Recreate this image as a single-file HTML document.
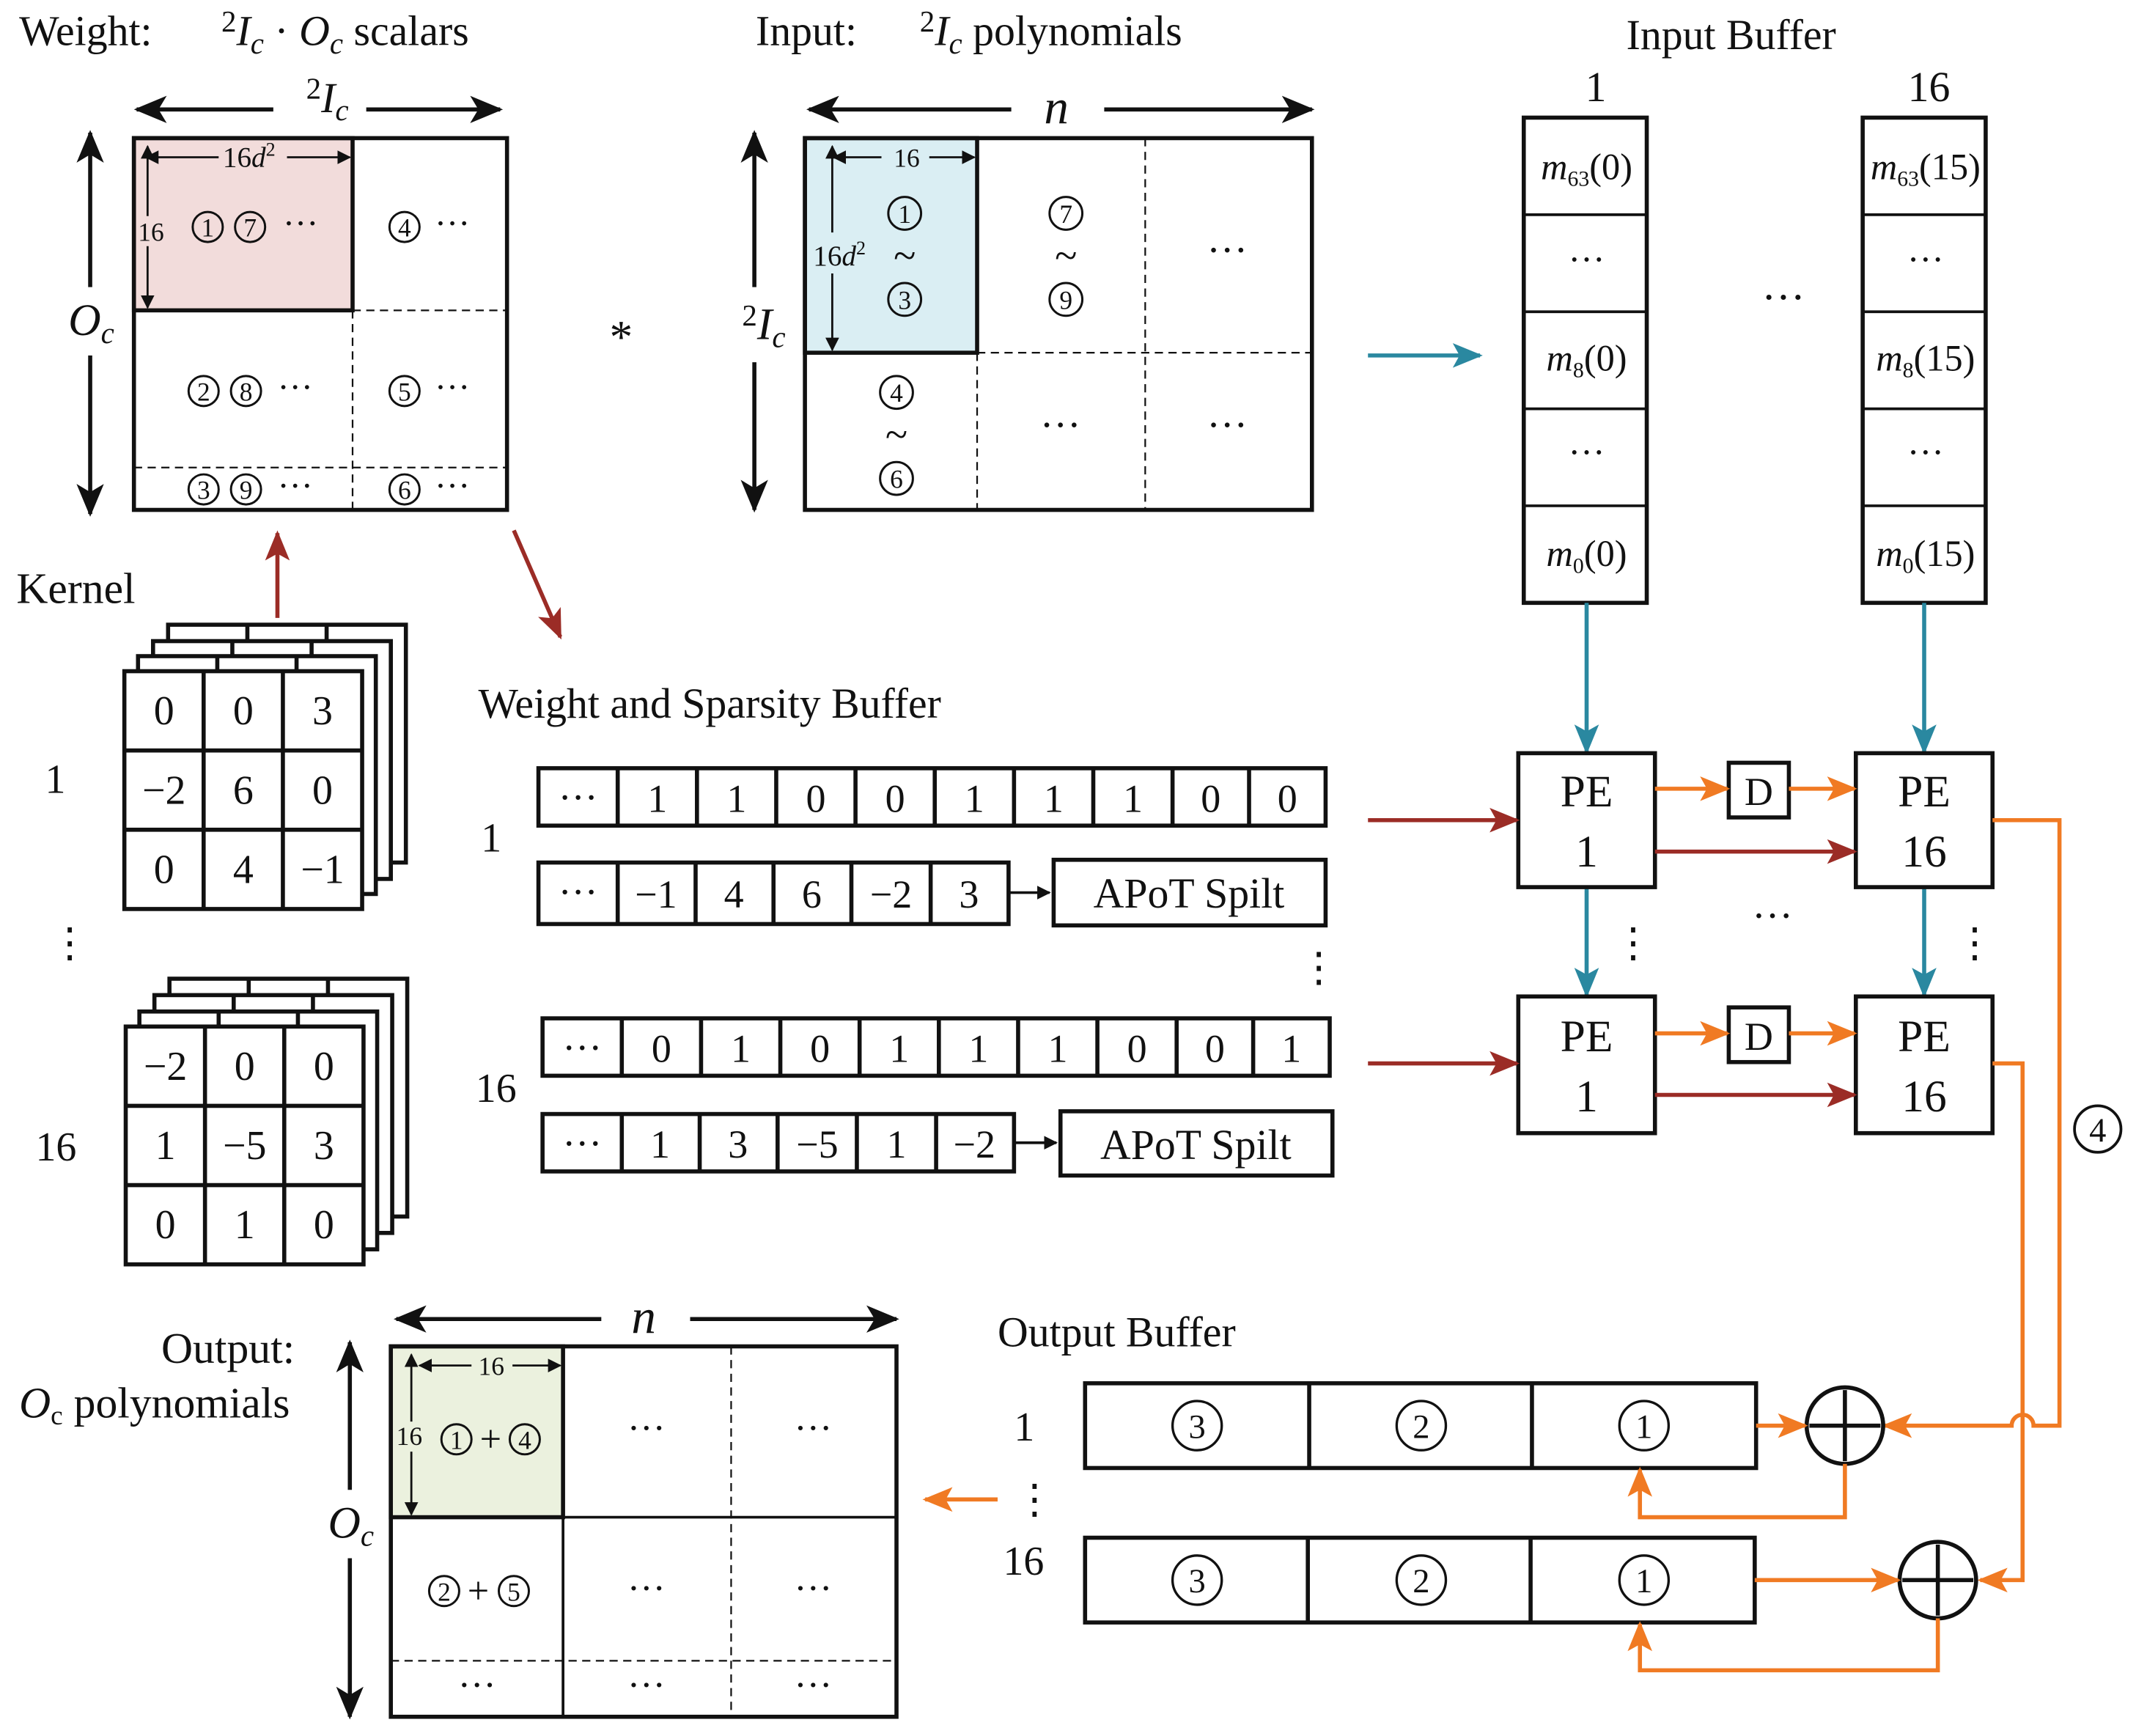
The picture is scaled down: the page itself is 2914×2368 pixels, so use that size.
<!DOCTYPE html>
<html><head><meta charset="utf-8"><style>
html,body{margin:0;padding:0;background:#fff;}
svg{display:block;}
text{font-family:"Liberation Serif",serif;fill:#111;}
</style></head><body>
<svg width="2914" height="2368" viewBox="0 0 1563 1270" xmlns="http://www.w3.org/2000/svg">
<defs>
<marker id="ak" markerWidth="10" markerHeight="10" refX="9" refY="5" orient="auto" markerUnits="userSpaceOnUse"><path d="M0,0 L10,5 L0,10 z" fill="#111"/></marker>
<marker id="abig" markerWidth="24" markerHeight="20" refX="22" refY="10" orient="auto" markerUnits="userSpaceOnUse"><path d="M0,0 L24,10 L0,20 L6,10 z" fill="#111"/></marker>
<marker id="ar" markerWidth="22" markerHeight="18" refX="20" refY="9" orient="auto" markerUnits="userSpaceOnUse"><path d="M0,0 L22,9 L0,18 L5,9 z" fill="#9b2c26"/></marker>
<marker id="at" markerWidth="22" markerHeight="18" refX="20" refY="9" orient="auto" markerUnits="userSpaceOnUse"><path d="M0,0 L22,9 L0,18 L5,9 z" fill="#2a88a0"/></marker>
<marker id="ao" markerWidth="22" markerHeight="18" refX="20" refY="9" orient="auto" markerUnits="userSpaceOnUse"><path d="M0,0 L22,9 L0,18 L5,9 z" fill="#f07a23"/></marker>
</defs>
<g font-size="31">
<text x="14" y="33">Weight:</text>
<text x="162" y="33"><tspan font-size="22" dy="-10">2</tspan><tspan dy="10" font-style="italic">I</tspan><tspan font-size="22" font-style="italic" dy="6">c</tspan><tspan dy="-6"> · </tspan><tspan font-style="italic">O</tspan><tspan font-size="22" font-style="italic" dy="6">c</tspan><tspan dy="-6"> scalars</tspan></text>
<text x="553" y="33">Input:</text>
<text x="673" y="33"><tspan font-size="22" dy="-10">2</tspan><tspan dy="10" font-style="italic">I</tspan><tspan font-size="22" font-style="italic" dy="6">c</tspan><tspan dy="-6"> polynomials</tspan></text>
<text x="1190" y="36">Input Buffer</text>
<text x="1160" y="74">1</text>
<text x="1396" y="74">16</text>
</g>
<rect x="98" y="101" width="160" height="126" fill="#f2dcdb" stroke="#111" stroke-width="3"/>
<rect x="98" y="101" width="273" height="272" fill="none" stroke="#111" stroke-width="3"/>
<g stroke="#111" stroke-width="1.2" stroke-dasharray="6,4">
<line x1="258" y1="227" x2="258" y2="373"/>
<line x1="258" y1="227" x2="371" y2="227"/>
<line x1="98" y1="342" x2="371" y2="342"/>
</g>
<line x1="200" y1="80" x2="100" y2="80" stroke="#111" stroke-width="3" marker-end="url(#abig)"/>
<line x1="268" y1="80" x2="366" y2="80" stroke="#111" stroke-width="3" marker-end="url(#abig)"/>
<text x="224" y="82" font-size="31"><tspan font-size="22" dy="-10">2</tspan><tspan dy="10" font-style="italic">I</tspan><tspan font-size="22" font-style="italic" dy="6">c</tspan></text>
<line x1="66" y1="210" x2="66" y2="97" stroke="#111" stroke-width="3" marker-end="url(#abig)"/>
<line x1="66" y1="260" x2="66" y2="376" stroke="#111" stroke-width="3" marker-end="url(#abig)"/>
<text x="50" y="245" font-size="33" font-style="italic">O<tspan font-size="22" dy="6">c</tspan></text>
<line x1="160" y1="115" x2="107" y2="115" stroke="#111" stroke-width="1.5" marker-end="url(#ak)"/>
<line x1="210" y1="115" x2="256" y2="115" stroke="#111" stroke-width="1.5" marker-end="url(#ak)"/>
<text x="163" y="122" font-size="21">16<tspan font-style="italic">d</tspan><tspan font-size="14" dy="-8">2</tspan></text>
<line x1="108" y1="158" x2="108" y2="107" stroke="#111" stroke-width="1.5" marker-end="url(#ak)"/>
<line x1="108" y1="180" x2="108" y2="225" stroke="#111" stroke-width="1.5" marker-end="url(#ak)"/>
<text x="101" y="176" font-size="19">16</text>
<g fill="none" stroke="#111" stroke-width="1.6">
<circle cx="152" cy="166" r="11"/><circle cx="183" cy="166" r="11"/><circle cx="296" cy="166" r="11"/>
<circle cx="149" cy="286" r="11"/><circle cx="180" cy="286" r="11"/><circle cx="296" cy="286" r="11"/>
<circle cx="149" cy="358" r="11"/><circle cx="180" cy="358" r="11"/><circle cx="296" cy="358" r="11"/>
</g>
<g font-size="19" text-anchor="middle">
<text x="152" y="173">1</text><text x="183" y="173">7</text><text x="296" y="173">4</text>
<text x="149" y="293">2</text><text x="180" y="293">8</text><text x="296" y="293">5</text>
<text x="149" y="365">3</text><text x="180" y="365">9</text><text x="296" y="365">6</text>
</g>
<g font-size="26">
<text x="207" y="172">···</text><text x="318" y="172">···</text>
<text x="203" y="292">···</text><text x="318" y="292">···</text>
<text x="203" y="364">···</text><text x="318" y="364">···</text>
</g>
<text x="446" y="258" font-size="34">*</text>
<rect x="589" y="101" width="126" height="157" fill="#daeef3" stroke="#111" stroke-width="3"/>
<rect x="589" y="101" width="371" height="272" fill="none" stroke="#111" stroke-width="3"/>
<g stroke="#111" stroke-width="1.2" stroke-dasharray="6,4">
<line x1="715" y1="258" x2="715" y2="373"/>
<line x1="838" y1="101" x2="838" y2="373"/>
<line x1="715" y1="258" x2="960" y2="258"/>
</g>
<line x1="740" y1="80" x2="592" y2="80" stroke="#111" stroke-width="3" marker-end="url(#abig)"/>
<line x1="808" y1="80" x2="960" y2="80" stroke="#111" stroke-width="3" marker-end="url(#abig)"/>
<text x="764" y="90" font-size="36" font-style="italic">n</text>
<line x1="552" y1="210" x2="552" y2="97" stroke="#111" stroke-width="3" marker-end="url(#abig)"/>
<line x1="552" y1="265" x2="552" y2="373" stroke="#111" stroke-width="3" marker-end="url(#abig)"/>
<text x="543" y="248" font-size="33"><tspan font-size="22" dy="-10">2</tspan><tspan dy="10" font-style="italic">I</tspan><tspan font-size="22" font-style="italic" dy="6">c</tspan></text>
<line x1="645" y1="115" x2="610" y2="115" stroke="#111" stroke-width="1.5" marker-end="url(#ak)"/>
<line x1="680" y1="115" x2="713" y2="115" stroke="#111" stroke-width="1.5" marker-end="url(#ak)"/>
<text x="654" y="122" font-size="19">16</text>
<line x1="609" y1="170" x2="609" y2="107" stroke="#111" stroke-width="1.5" marker-end="url(#ak)"/>
<line x1="609" y1="200" x2="609" y2="256" stroke="#111" stroke-width="1.5" marker-end="url(#ak)"/>
<text x="595" y="194" font-size="21">16<tspan font-style="italic">d</tspan><tspan font-size="14" dy="-8">2</tspan></text>
<g fill="none" stroke="#111" stroke-width="1.6">
<circle cx="662" cy="156" r="12"/><circle cx="662" cy="219" r="12"/>
<circle cx="780" cy="156" r="12"/><circle cx="780" cy="219" r="12"/>
<circle cx="656" cy="287" r="12"/><circle cx="656" cy="350" r="12"/>
</g>
<g font-size="19" text-anchor="middle">
<text x="662" y="163">1</text><text x="662" y="226">3</text>
<text x="780" y="163">7</text><text x="780" y="226">9</text>
<text x="656" y="294">4</text><text x="656" y="357">6</text>
</g>
<g font-size="30" text-anchor="middle">
<text x="662" y="197">~</text><text x="780" y="197">~</text><text x="656" y="328">~</text>
<text x="898" y="193">···</text><text x="776" y="321">···</text><text x="898" y="321">···</text>
</g>
<g fill="none" stroke="#111" stroke-width="3">
<rect x="1115" y="86" width="90" height="355"/>
<rect x="1363" y="86" width="90" height="355"/>
</g>
<g stroke="#111" stroke-width="2">
<line x1="1115" y1="157" x2="1205" y2="157"/><line x1="1115" y1="228" x2="1205" y2="228"/><line x1="1115" y1="299" x2="1205" y2="299"/><line x1="1115" y1="370" x2="1205" y2="370"/>
<line x1="1363" y1="157" x2="1453" y2="157"/><line x1="1363" y1="228" x2="1453" y2="228"/><line x1="1363" y1="299" x2="1453" y2="299"/><line x1="1363" y1="370" x2="1453" y2="370"/>
</g>
<g font-size="27" text-anchor="middle">
<text x="1161" y="131"><tspan font-style="italic">m</tspan><tspan font-size="16" dy="5">63</tspan><tspan dy="-5">(0)</tspan></text>
<text x="1161" y="199">···</text>
<text x="1161" y="271"><tspan font-style="italic">m</tspan><tspan font-size="16" dy="5">8</tspan><tspan dy="-5">(0)</tspan></text>
<text x="1161" y="340">···</text>
<text x="1161" y="414"><tspan font-style="italic">m</tspan><tspan font-size="16" dy="5">0</tspan><tspan dy="-5">(0)</tspan></text>
<text x="1409" y="131"><tspan font-style="italic">m</tspan><tspan font-size="16" dy="5">63</tspan><tspan dy="-5">(15)</tspan></text>
<text x="1409" y="199">···</text>
<text x="1409" y="271"><tspan font-style="italic">m</tspan><tspan font-size="16" dy="5">8</tspan><tspan dy="-5">(15)</tspan></text>
<text x="1409" y="340">···</text>
<text x="1409" y="414"><tspan font-style="italic">m</tspan><tspan font-size="16" dy="5">0</tspan><tspan dy="-5">(15)</tspan></text>
<text x="1305" y="228" font-size="32">···</text>
</g>
<line x1="1001" y1="260" x2="1083" y2="260" stroke="#2a88a0" stroke-width="3" marker-end="url(#at)"/>
<line x1="1161" y1="441" x2="1161" y2="550" stroke="#2a88a0" stroke-width="3" marker-end="url(#at)"/>
<line x1="1408" y1="441" x2="1408" y2="550" stroke="#2a88a0" stroke-width="3" marker-end="url(#at)"/>
<line x1="1161" y1="649" x2="1161" y2="728" stroke="#2a88a0" stroke-width="3" marker-end="url(#at)"/>
<line x1="1408" y1="649" x2="1408" y2="728" stroke="#2a88a0" stroke-width="3" marker-end="url(#at)"/>
<text x="12" y="441" font-size="32">Kernel</text>
<line x1="203" y1="452" x2="203" y2="390" stroke="#9b2c26" stroke-width="3" marker-end="url(#ar)"/>
<line x1="376" y1="388" x2="410" y2="466" stroke="#9b2c26" stroke-width="3" marker-end="url(#ar)"/>
<g fill="#fff" stroke="#111" stroke-width="3">
<rect x="123" y="457" width="174" height="174"/>
<rect x="112" y="469" width="174" height="174"/>
<rect x="101" y="480" width="174" height="174"/>
<rect x="91" y="491" width="174" height="174"/>
</g>
<g stroke="#111" stroke-width="3">
<line x1="149" y1="491" x2="149" y2="665"/><line x1="207" y1="491" x2="207" y2="665"/>
<line x1="91" y1="549" x2="265" y2="549"/><line x1="91" y1="607" x2="265" y2="607"/>
<line x1="181" y1="457" x2="181" y2="469"/><line x1="239" y1="457" x2="239" y2="469"/>
<line x1="170" y1="469" x2="170" y2="480"/><line x1="228" y1="469" x2="228" y2="480"/>
<line x1="159" y1="480" x2="159" y2="491"/><line x1="217" y1="480" x2="217" y2="491"/>
</g>
<g font-size="30" text-anchor="middle">
<text x="120" y="530">0</text><text x="178" y="530">0</text><text x="236" y="530">3</text>
<text x="120" y="588">−2</text><text x="178" y="588">6</text><text x="236" y="588">0</text>
<text x="120" y="646">0</text><text x="178" y="646">4</text><text x="236" y="646">−1</text>
</g>
<text x="33" y="580" font-size="30">1</text>
<text x="36" y="700" font-size="30">⋮</text>
<g fill="#fff" stroke="#111" stroke-width="3">
<rect x="124" y="716" width="174" height="174"/>
<rect x="113" y="728" width="174" height="174"/>
<rect x="102" y="740" width="174" height="174"/>
<rect x="92" y="751" width="174" height="174"/>
</g>
<g stroke="#111" stroke-width="3">
<line x1="150" y1="751" x2="150" y2="925"/><line x1="208" y1="751" x2="208" y2="925"/>
<line x1="92" y1="809" x2="266" y2="809"/><line x1="92" y1="867" x2="266" y2="867"/>
<line x1="182" y1="716" x2="182" y2="728"/><line x1="240" y1="716" x2="240" y2="728"/>
<line x1="171" y1="728" x2="171" y2="740"/><line x1="229" y1="728" x2="229" y2="740"/>
<line x1="160" y1="740" x2="160" y2="751"/><line x1="218" y1="740" x2="218" y2="751"/>
</g>
<g font-size="30" text-anchor="middle">
<text x="121" y="790">−2</text><text x="179" y="790">0</text><text x="237" y="790">0</text>
<text x="121" y="848">1</text><text x="179" y="848">−5</text><text x="237" y="848">3</text>
<text x="121" y="906">0</text><text x="179" y="906">1</text><text x="237" y="906">0</text>
</g>
<text x="26" y="849" font-size="30">16</text>
<text x="350" y="525" font-size="31">Weight and Sparsity Buffer</text>
<text x="352" y="623" font-size="30">1</text>
<text x="348" y="806" font-size="30">16</text>
<text x="950" y="718" font-size="30">⋮</text>
<g fill="none" stroke="#111" stroke-width="3">
<rect x="394" y="562" width="576" height="42"/>
<rect x="394" y="631" width="344" height="45"/>
<rect x="771" y="629" width="199" height="48"/>
<rect x="397" y="745" width="576" height="42"/>
<rect x="397" y="815" width="345" height="42"/>
<rect x="776" y="813" width="199" height="47"/>
<path d="M452,562V604M510,562V604M568,562V604M626,562V604M684,562V604M742,562V604M800,562V604M858,562V604M914,562V604"/>
<path d="M452,631V676M509,631V676M566,631V676M623,631V676M681,631V676"/>
<path d="M455,745V787M513,745V787M571,745V787M629,745V787M687,745V787M745,745V787M803,745V787M861,745V787M917,745V787"/>
<path d="M455,815V857M512,815V857M569,815V857M627,815V857M685,815V857"/>
</g>
<line x1="738" y1="653" x2="768" y2="653" stroke="#111" stroke-width="2" marker-end="url(#ak)"/>
<line x1="742" y1="836" x2="773" y2="836" stroke="#111" stroke-width="2" marker-end="url(#ak)"/>
<g font-size="29" text-anchor="middle">
<text x="423" y="593">···</text><text x="481" y="594">1</text><text x="539" y="594">1</text><text x="597" y="594">0</text><text x="655" y="594">0</text><text x="713" y="594">1</text><text x="771" y="594">1</text><text x="829" y="594">1</text><text x="886" y="594">0</text><text x="942" y="594">0</text>
<text x="423" y="662">···</text><text x="480" y="664">−1</text><text x="537" y="664">4</text><text x="594" y="664">6</text><text x="652" y="664">−2</text><text x="709" y="664">3</text>
<text x="870" y="664" font-size="31">APoT Spilt</text>
<text x="426" y="776">···</text><text x="484" y="777">0</text><text x="542" y="777">1</text><text x="600" y="777">0</text><text x="658" y="777">1</text><text x="716" y="777">1</text><text x="774" y="777">1</text><text x="832" y="777">0</text><text x="889" y="777">0</text><text x="945" y="777">1</text>
<text x="426" y="846">···</text><text x="483" y="847">1</text><text x="540" y="847">3</text><text x="598" y="847">−5</text><text x="656" y="847">1</text><text x="713" y="847">−2</text>
<text x="875" y="848" font-size="31">APoT Spilt</text>
</g>
<g fill="#fff" stroke="#111" stroke-width="3">
<rect x="1111" y="551" width="100" height="98"/>
<rect x="1358" y="551" width="100" height="98"/>
<rect x="1111" y="729" width="100" height="100"/>
<rect x="1358" y="729" width="100" height="100"/>
<rect x="1265" y="558" width="44" height="40"/>
<rect x="1265" y="737" width="44" height="40"/>
</g>
<g font-size="33" text-anchor="middle">
<text x="1161" y="590">PE</text><text x="1161" y="634">1</text>
<text x="1408" y="590">PE</text><text x="1408" y="634">16</text>
<text x="1161" y="769">PE</text><text x="1161" y="813">1</text>
<text x="1408" y="769">PE</text><text x="1408" y="813">16</text>
<text x="1287" y="589" font-size="29">D</text><text x="1287" y="768" font-size="29">D</text>
</g>
<text x="1180" y="700" font-size="30">⋮</text>
<text x="1430" y="700" font-size="30">⋮</text>
<text x="1282" y="680" font-size="30">···</text>
<line x1="1001" y1="600" x2="1110" y2="600" stroke="#9b2c26" stroke-width="3" marker-end="url(#ar)"/>
<line x1="1001" y1="778" x2="1110" y2="778" stroke="#9b2c26" stroke-width="3" marker-end="url(#ar)"/>
<line x1="1211" y1="623" x2="1357" y2="623" stroke="#9b2c26" stroke-width="3" marker-end="url(#ar)"/>
<line x1="1211" y1="801" x2="1357" y2="801" stroke="#9b2c26" stroke-width="3" marker-end="url(#ar)"/>
<line x1="1211" y1="577" x2="1264" y2="577" stroke="#f07a23" stroke-width="3" marker-end="url(#ao)"/>
<line x1="1309" y1="577" x2="1357" y2="577" stroke="#f07a23" stroke-width="3" marker-end="url(#ao)"/>
<line x1="1211" y1="756" x2="1264" y2="756" stroke="#f07a23" stroke-width="3" marker-end="url(#ao)"/>
<line x1="1309" y1="756" x2="1357" y2="756" stroke="#f07a23" stroke-width="3" marker-end="url(#ao)"/>
<path d="M1458,600H1507V1043H1488A8,8 0 0 0 1472,1043H1379" fill="none" stroke="#f07a23" stroke-width="3" marker-end="url(#ao)"/>
<path d="M1458,778H1480V1156H1449" fill="none" stroke="#f07a23" stroke-width="3" marker-end="url(#ao)"/>
<circle cx="1535" cy="826" r="17" fill="#fff" stroke="#111" stroke-width="2"/>
<text x="1535" y="835" font-size="25" text-anchor="middle">4</text>
<text x="730" y="985" font-size="31">Output Buffer</text>
<text x="742" y="1054" font-size="30">1</text>
<text x="742" y="1107" font-size="30">⋮</text>
<text x="734" y="1152" font-size="30">16</text>
<g fill="none" stroke="#111" stroke-width="3">
<rect x="794" y="1012" width="491" height="62"/>
<rect x="794" y="1125" width="490" height="62"/>
<path d="M958,1012V1074M1121,1012V1074M957,1125V1187M1120,1125V1187"/>
<circle cx="1350" cy="1043" r="28"/><circle cx="1418" cy="1156" r="28"/>
<path d="M1324,1043H1376M1350,1017V1069M1392,1156H1444M1418,1130V1182"/>
</g>
<g fill="none" stroke="#111" stroke-width="1.8">
<circle cx="876" cy="1043" r="18"/><circle cx="1040" cy="1043" r="18"/><circle cx="1203" cy="1043" r="18"/>
<circle cx="876" cy="1156" r="18"/><circle cx="1040" cy="1156" r="18"/><circle cx="1203" cy="1156" r="18"/>
</g>
<g font-size="25" text-anchor="middle">
<text x="876" y="1052">3</text><text x="1040" y="1052">2</text><text x="1203" y="1052">1</text>
<text x="876" y="1165">3</text><text x="1040" y="1165">2</text><text x="1203" y="1165">1</text>
</g>
<line x1="1285" y1="1043" x2="1321" y2="1043" stroke="#f07a23" stroke-width="3" marker-end="url(#ao)"/>
<line x1="1284" y1="1156" x2="1389" y2="1156" stroke="#f07a23" stroke-width="3" marker-end="url(#ao)"/>
<path d="M1350,1071V1110H1200V1075" fill="none" stroke="#f07a23" stroke-width="3" marker-end="url(#ao)"/>
<path d="M1418,1184V1222H1200V1188" fill="none" stroke="#f07a23" stroke-width="3" marker-end="url(#ao)"/>
<line x1="730" y1="1097" x2="677" y2="1097" stroke="#f07a23" stroke-width="3" marker-end="url(#ao)"/>
<text x="118" y="997" font-size="32">Output:</text>
<text x="14" y="1037" font-size="32"><tspan font-style="italic">O</tspan><tspan font-size="20" dy="5">c</tspan><tspan dy="-5"> polynomials</tspan></text>
<rect x="286" y="985" width="126" height="125" fill="#ebf1de" stroke="#111" stroke-width="3"/>
<rect x="286" y="985" width="370" height="271" fill="none" stroke="#111" stroke-width="3"/>
<line x1="412" y1="985" x2="412" y2="1256" stroke="#111" stroke-width="2"/>
<line x1="286" y1="1110" x2="656" y2="1110" stroke="#111" stroke-width="2"/>
<g stroke="#111" stroke-width="1.2" stroke-dasharray="6,4">
<line x1="535" y1="985" x2="535" y2="1256"/>
<line x1="286" y1="1215" x2="656" y2="1215"/>
</g>
<line x1="440" y1="965" x2="290" y2="965" stroke="#111" stroke-width="3" marker-end="url(#abig)"/>
<line x1="505" y1="965" x2="656" y2="965" stroke="#111" stroke-width="3" marker-end="url(#abig)"/>
<text x="462" y="975" font-size="36" font-style="italic">n</text>
<line x1="256" y1="1090" x2="256" y2="982" stroke="#111" stroke-width="3" marker-end="url(#abig)"/>
<line x1="256" y1="1140" x2="256" y2="1256" stroke="#111" stroke-width="3" marker-end="url(#abig)"/>
<text x="240" y="1125" font-size="33" font-style="italic">O<tspan font-size="22" dy="6">c</tspan></text>
<line x1="345" y1="999" x2="307" y2="999" stroke="#111" stroke-width="1.5" marker-end="url(#ak)"/>
<line x1="375" y1="999" x2="410" y2="999" stroke="#111" stroke-width="1.5" marker-end="url(#ak)"/>
<text x="350" y="1006" font-size="19">16</text>
<line x1="301" y1="1040" x2="301" y2="991" stroke="#111" stroke-width="1.5" marker-end="url(#ak)"/>
<line x1="301" y1="1062" x2="301" y2="1108" stroke="#111" stroke-width="1.5" marker-end="url(#ak)"/>
<text x="290" y="1057" font-size="19">16</text>
<g fill="none" stroke="#111" stroke-width="1.6">
<circle cx="334" cy="1053" r="11"/><circle cx="384" cy="1053" r="11"/>
<circle cx="325" cy="1164" r="11"/><circle cx="376" cy="1164" r="11"/>
</g>
<g font-size="19" text-anchor="middle">
<text x="334" y="1060">1</text><text x="384" y="1060">4</text>
<text x="325" y="1171">2</text><text x="376" y="1171">5</text>
</g>
<g font-size="28" text-anchor="middle">
<text x="359" y="1062">+</text><text x="350" y="1173">+</text>
<text x="473" y="1054">···</text><text x="595" y="1054">···</text>
<text x="473" y="1171">···</text><text x="595" y="1171">···</text>
<text x="349" y="1242">···</text><text x="473" y="1242">···</text><text x="595" y="1242">···</text>
</g>
</svg>
</body></html>
